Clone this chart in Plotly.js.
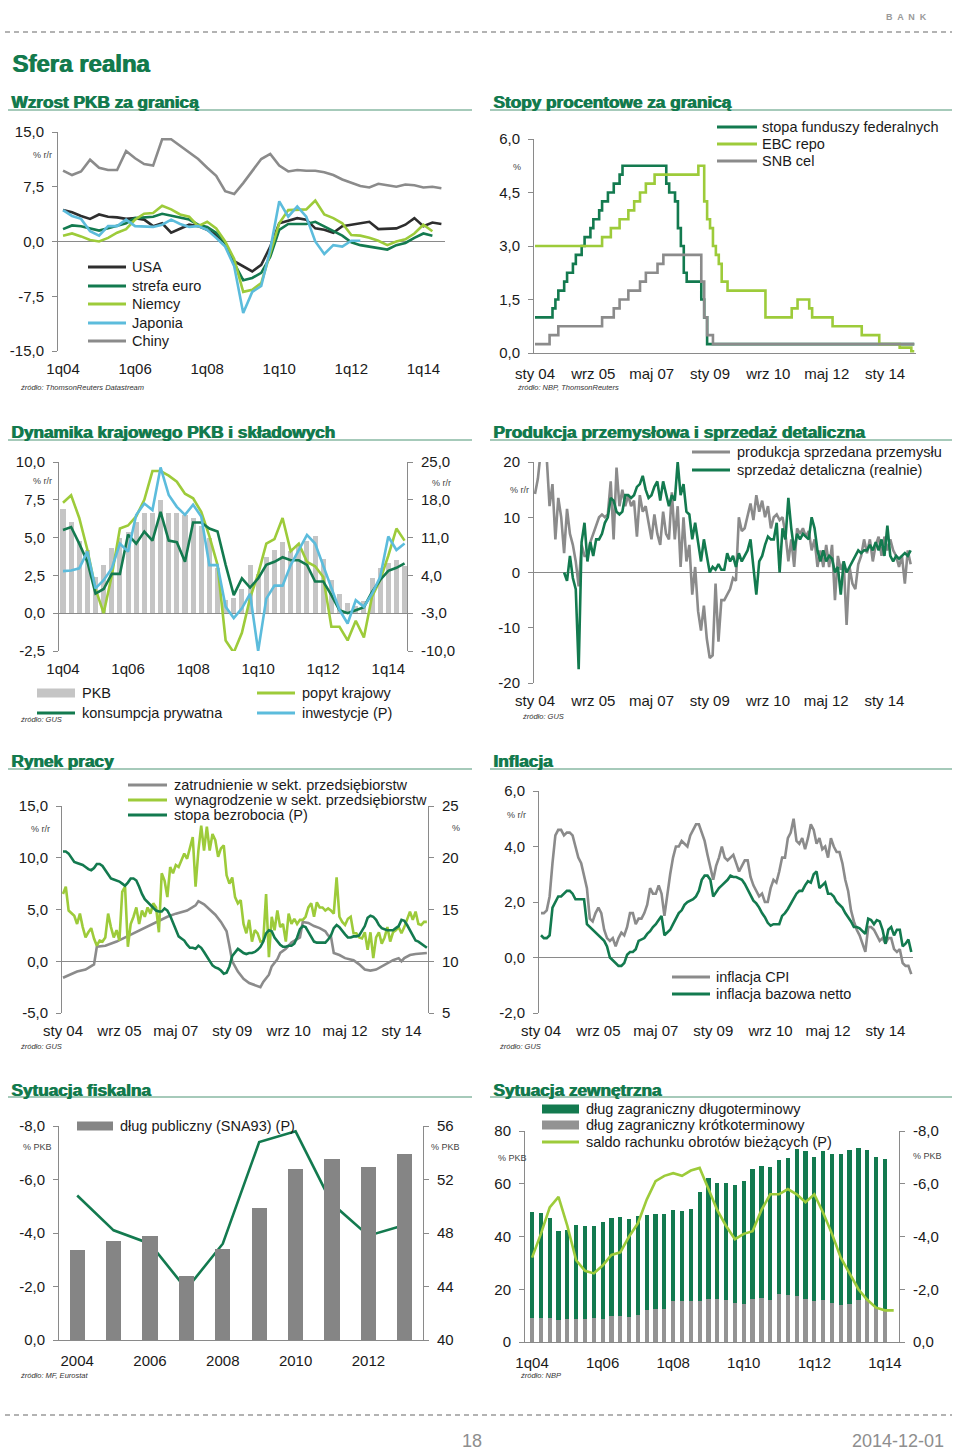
<!DOCTYPE html>
<html><head><meta charset="utf-8">
<script src="https://cdn.plot.ly/plotly-3.0.1.min.js"></script>
<style>html,body{margin:0;padding:0;background:#fff;}#chart{width:960px;height:1450px;}</style>
</head><body><div id="chart"></div>
<script>
// ---------------- DATA ----------------
// Panel 1: GDP abroad (quarterly 1q04..3q14)
const quarterTickLabels = ['1q04','1q06','1q08','1q10','1q12','1q14'];
const gdpUSA = [4.3,4.0,3.5,3.1,3.7,3.4,3.3,3.1,3.2,3.0,2.1,2.5,1.2,1.8,2.3,2.1,1.6,0.9,-0.2,-2.7,-3.4,-4.1,-3.2,-0.7,2.5,2.9,3.2,3.0,1.8,1.6,1.2,2.1,2.3,2.5,2.7,1.7,1.7,1.8,2.3,3.2,2.1,2.6,2.4];
const gdpEuro = [1.7,2.2,2.1,1.8,1.5,1.8,2.1,2.5,3.2,3.3,3.4,3.8,3.5,3.2,3.0,2.3,2.0,1.2,-0.2,-3.0,-5.3,-5.0,-4.3,-2.1,1.6,2.4,2.4,2.4,2.7,2.1,1.5,0.8,-0.1,-0.5,-0.7,-0.9,-1.1,-0.5,-0.2,0.5,1.1,0.8,null];
const gdpGermany = [0.8,1.1,0.7,0.2,0.0,0.5,1.2,1.7,3.0,3.8,3.9,4.9,4.4,3.7,3.4,2.1,2.7,1.8,0.0,-2.4,-6.9,-6.6,-5.7,-1.6,2.5,4.3,4.4,4.4,5.6,3.7,3.2,2.5,0.9,0.8,0.5,0.1,-0.5,0.0,0.3,1.1,2.3,1.4,null];
const gdpJapan = [4.3,3.5,3.1,1.4,0.8,2.1,2.1,3.0,2.1,2.1,2.0,2.3,3.0,2.4,2.0,2.1,1.6,0.5,-0.7,-3.4,-9.8,-6.9,-6.1,-1.1,5.5,3.4,4.8,3.4,0.0,-1.7,-0.5,-0.7,0.1,0.1];
const gdpChina = [9.7,9.1,9.6,11.2,10.1,9.8,9.8,12.4,11.4,10.6,10.4,14.0,14.0,13.1,12.2,11.3,10.1,9.0,6.9,6.5,8.0,9.6,11.3,12.0,10.4,9.6,9.8,9.7,9.7,9.5,9.1,8.5,8.0,7.6,7.4,7.9,7.7,7.5,7.8,7.7,7.4,7.5,7.3];

// Panel 2: policy rates (step change points, months since Jan 2004)
const monthTickLabels = ['sty 04','wrz 05','maj 07','sty 09','wrz 10','maj 12','sty 14'];
const fedMonths = [0,6,7,8,10,11,13,14,16,17,19,20,22,23,25,27,29,30,45,46,48,49,50,51,52,57,58,59,130];
const fedRate   = [1.0,1.25,1.5,1.75,2.0,2.25,2.5,2.75,3.0,3.25,3.5,3.75,4.0,4.25,4.5,4.75,5.0,5.25,4.75,4.5,4.25,3.5,3.0,2.25,2.0,1.5,1.0,0.25,0.25];
const ecbMonths = [0,23,26,29,32,34,36,38,41,56,58,59,60,61,62,63,64,66,79,88,90,94,95,102,112,118,125,129,130];
const ecbRate   = [3.0,3.25,3.5,3.75,4.0,4.25,4.5,4.75,5.0,5.25,4.25,3.75,3.5,3.0,2.75,2.5,2.0,1.75,1.0,1.25,1.5,1.25,1.0,0.75,0.5,0.25,0.15,0.05,0.05];
const snbMonths = [0,5,8,23,27,29,32,36,38,42,44,57,58,59,61,130];
const snbRate   = [0.25,0.5,0.75,1.0,1.25,1.5,1.75,2.0,2.25,2.5,2.75,2.0,1.0,0.5,0.25,0.25];

// Panel 3: Polish GDP and components (quarterly 1q04..3q14)
const gdpPL = [6.9,6.0,4.8,4.2,2.4,3.2,4.3,5.0,5.4,6.0,6.6,6.6,7.5,6.6,6.6,6.5,6.3,5.8,5.0,3.0,0.9,1.0,1.6,3.2,2.6,3.7,4.2,4.7,4.1,4.5,4.8,5.1,3.6,2.2,1.3,0.7,0.5,0.8,2.3,3.0,3.3,3.5,3.1];
const domesticDemand = [7.3,7.8,6.3,4.2,1.6,0.0,2.5,5.6,5.8,6.4,7.5,9.4,9.4,9.1,8.7,7.9,7.6,6.7,5.1,3.2,-1.8,-2.6,-1.3,1.0,2.6,4.6,4.9,6.3,4.1,4.6,3.4,3.1,2.4,-0.9,-0.9,-1.8,-0.5,-1.6,1.1,2.2,3.8,5.6,4.8];
const privateConsumption = [5.5,5.7,4.6,3.4,1.3,1.6,2.6,2.6,5.2,4.6,5.4,4.8,6.7,4.8,4.7,3.4,6.0,6.0,5.6,5.4,3.2,1.2,2.3,1.7,2.3,3.2,3.4,3.7,3.5,3.5,3.2,2.1,2.1,1.2,0.2,0.0,0.2,0.4,1.4,2.2,2.8,3.0,3.3];
const investment = [4.8,4.9,5.3,8.4,1.6,3.1,5.3,9.9,8.4,15.2,17.3,16.1,24.0,18.9,16.7,15.2,17.1,14.9,5.9,5.9,-1.8,-3.9,-2.1,0.6,-10.0,-0.3,2.1,2.1,5.9,8.7,11.5,9.9,5.9,1.9,-2.4,-4.9,-0.6,-1.8,0.6,3.7,11.2,8.7,9.9];

// Panel 4: industrial production and retail sales (monthly Jan04..Oct14)
const industrialProduction = [14.2,17,22,23,21,12,16,6,13.5,10,
 3.5,11.5,7,5,2,-2.5,5,3,3,5.5,
 7,8.5,10,10.5,10,10.5,16.5,6,19,12,
 15,12,14,12,13,6.5,14,11,12,9,
 6,10.5,7,5,11,7,6,14.5,6,12,
 1,10,2,5,-4,1,-7,-10.5,-6,-12,
 -15.5,-15,-2,-12.5,-5,-5,-4,-3,-1,-1.5,
 10,7.5,8,10,12.5,9.5,14,11,13,10,
 12,8,10,10.5,9.5,10,7,2,6,1,
 8,7,8,6.5,7.5,4,6,1,4,1,
 5,1,5,-5,3,0.5,2,-9.5,1,-2,
 -3,1.5,3,6,3.5,6,2,5,6.5,3,
 6.5,4,6,4,3,1,3,-2,4,1.5];
const retailSales = [null,null,null,null,null,null,null,null,null,null,
 0,-1.5,3,-1,-3,-17.5,5.5,9,2,5.5,
 3,6,6,7,9,10,13.5,13,11,10.5,
 11,14,14,13.5,14,15.5,16,17.5,15,13.5,
 14,15.5,16.5,13,16.5,14,12,14,13,20,
 14,16,11,10.5,6,9,5,2,6,3,
 0,1,0.5,1.5,0.5,0.5,3.5,2,3,1,
 3.5,2,3,4,6,1,-4,2,3,5,
 6.5,6,6,9,0,8,6,13.5,8,4,
 7,6,7,6.5,6,10,8,4,2,4,
 2,3,2.5,0,1,-4,2,0,1,2,
 3,4,3.5,4,4,5,4,5.5,4,6,
 3,8.5,3,2,3,2.5,3,3.5,3,4];

// Panel 5: labour market
const employmentMonths = [0,5,8,11,12,15,19,22,26,30,33,37,40,44,47,48,50,52,54,56,58,59,60,62,64,66,69,70,71,73,74,76,77,79,81,83,84,85,87,89,91,93,94,95,96,98,100,103,105,107,109,111,113,115,117,119,120,121,123,125,129];
const employment = [-1.6,-1.0,-0.8,-0.3,1.4,1.5,1.9,2.3,2.8,3.4,3.8,4.3,4.6,4.9,5.4,5.8,5.5,5.0,4.5,3.8,2.9,1.5,0.0,-1.0,-1.7,-2.1,-2.4,-2.5,-2.0,-1.3,-0.5,0.2,0.8,1.2,1.8,2.1,2.3,3.8,3.7,3.4,3.2,2.9,2.5,2.4,0.8,0.6,0.3,0.1,-0.3,-0.8,-0.9,-0.8,-0.5,-0.2,0.1,0.3,0.0,0.3,0.6,0.7,0.8];
const wages = [6.5,7.2,4.9,4.6,4.4,3.6,4.6,3.3,2.3,2.8,
 3.2,2.2,1.5,2.0,1.9,2.3,4.6,3.3,2.3,3.0,
 2.0,6.7,7.2,1.4,3.6,4.3,5.2,3.6,4.9,4.3,
 5.2,4.6,5.6,5.2,2.8,8.5,7.8,6.2,9.1,8.5,
 9.3,9.1,9.7,10.4,9.9,11.0,12.0,7.2,10.7,13.1,
 10.7,13.0,10.7,12.3,11.7,10.1,10.9,11.2,8.3,7.5,
 8.1,6.2,5.6,5.9,3.6,2.7,4.0,1.9,3.0,2.7,
 1.9,2.0,6.5,0.4,4.3,3.0,4.9,3.3,3.6,1.9,
 4.6,3.6,4.1,3.6,4.0,4.0,4.3,5.2,5.6,4.3,
 5.7,5.2,5.2,4.9,5.1,4.9,4.6,8.1,4.3,3.8,
 3.5,4.1,4.3,2.7,2.7,2.3,2.2,2.8,1.1,2.8,
 0.3,2.3,2.8,1.7,2.3,3.3,1.9,2.8,3.0,3.3,
 2.7,3.3,4.0,4.8,4.0,4.8,3.6,3.5,3.8,3.8];
const unemployment = [20.6,20.6,20.4,20.0,19.6,19.5,19.4,19.3,19.1,18.9,18.8,19.0,
 19.4,19.4,19.2,18.8,18.4,18.0,17.9,17.8,17.7,17.5,17.3,17.6,
 18.0,18.0,17.8,17.2,16.5,16.0,15.7,15.5,15.2,14.9,14.8,14.8,
 15.1,14.9,14.4,13.7,13.0,12.4,12.2,12.0,11.6,11.3,11.3,11.2,
 11.5,11.3,10.9,10.5,10.0,9.6,9.4,9.3,9.1,8.8,8.9,9.5,
 10.5,10.9,11.2,11.0,10.8,10.7,10.8,10.8,10.9,11.1,11.4,11.9,
 12.7,13.0,12.9,12.3,11.9,11.6,11.4,11.4,11.5,11.5,11.7,12.3,
 13.1,13.4,13.3,12.8,12.4,11.9,11.8,11.8,11.8,11.8,12.1,12.5,
 13.2,13.5,13.3,12.9,12.6,12.3,12.3,12.4,12.4,12.5,12.9,13.4,
 14.2,14.4,14.3,14.0,13.5,13.2,13.1,13.0,13.0,13.0,13.2,13.4,
 14.0,13.9,13.5,13.0,12.5,12.0,11.9,11.7,11.5,11.3];

// Panel 6: inflation (monthly Jan04..Oct14)
const cpi = [1.6,1.6,1.7,2.2,3.4,4.4,4.6,4.6,4.4,4.5,4.5,4.4,
 4.0,3.6,3.4,3.0,2.5,1.4,1.3,1.6,1.8,1.6,1.0,0.7,
 0.6,0.7,0.4,0.7,0.9,0.8,1.1,1.6,1.6,1.2,1.4,1.4,
 1.6,1.9,2.5,2.3,2.3,2.6,2.3,1.5,2.3,3.0,3.6,4.0,
 4.0,4.2,4.1,4.0,4.4,4.6,4.8,4.8,4.5,4.2,3.7,3.3,
 2.8,3.3,3.6,4.0,3.6,3.5,3.6,3.7,3.4,3.1,3.3,3.5,
 3.5,2.9,2.6,2.4,2.2,2.3,2.0,2.0,2.5,2.8,2.7,3.1,
 3.6,3.6,4.3,4.5,5.0,4.2,4.1,4.3,3.9,4.3,4.8,4.6,
 4.1,4.3,3.9,4.0,3.6,4.3,4.0,3.8,3.8,3.4,2.8,2.4,
 1.7,1.3,1.0,0.8,0.5,0.2,1.1,1.1,1.0,0.8,0.6,0.7,
 0.5,0.7,0.7,0.3,0.2,0.3,-0.2,-0.3,-0.3,-0.6];
const coreInflation = [0.8,0.7,0.7,0.8,1.8,2.0,2.2,2.2,2.3,2.4,
 2.4,2.3,2.1,2.1,2.1,2.1,1.2,1.1,1.0,0.9,
 0.8,0.7,0.6,0.4,0.0,-0.1,-0.2,-0.3,-0.3,-0.2,
 0.1,0.2,0.2,0.3,0.6,0.65,0.7,0.85,0.95,1.1,
 1.2,1.35,1.5,0.8,0.9,1.0,1.2,1.4,1.6,1.7,
 1.9,2.0,2.05,2.1,2.2,2.4,2.8,2.95,2.95,2.8,
 2.2,2.35,2.5,2.6,2.7,2.8,2.95,2.9,2.9,2.85,
 2.8,2.65,2.45,2.25,2.05,1.95,1.8,1.6,1.45,1.25,
 1.15,1.2,1.2,1.2,1.5,1.6,1.75,1.95,2.1,2.3,
 2.4,2.4,2.6,2.75,2.7,3.0,3.1,2.5,2.6,2.7,
 2.3,2.3,2.2,2.0,1.9,1.8,1.6,1.45,1.3,1.1,
 1.1,1.05,0.95,0.85,1.4,1.35,1.2,1.35,1.3,1.0,
 0.5,1.0,1.1,0.8,1.0,1.0,0.4,0.5,0.65,0.2];

// Panel 7: fiscal
const fiscalYears = [2004,2005,2006,2007,2008,2009,2010,2011,2012,2013];
const yearTickLabels = ['2004','2006','2008','2010','2012'];
const publicDebt = [46.7,47.4,47.8,44.8,46.8,49.9,52.8,53.5,52.9,53.9];
const deficit = [-5.4,-4.1,-3.6,-1.9,-3.6,-7.4,-7.8,-5.1,-3.9,-4.3];

// Panel 8: external (quarterly 1q04..)
const longTermDebt = [40.2,39.8,37.9,33.9,34.0,35.9,35.3,34.9,36.7,37.0,37.5,37.1,37.7,36.2,36.3,35.8,34.4,34.2,35.2,41.5,45.9,44.2,44.6,44.7,46.6,49.3,50.1,50.4,50.6,52.0,56.0,56.2,54.8,56.5,56.4,57.3,58.2,57.8,57.1,56.9,57.5];
const shortTermDebt = [9.1,9.1,9.1,8.2,8.6,8.6,8.6,9.1,8.8,9.9,9.9,9.5,10.1,12.0,12.4,12.6,15.5,15.5,15.4,15.4,16.4,16.2,15.8,14.8,14.5,16.4,16.7,16.1,18.3,17.7,17.3,16.2,15.5,15.8,14.8,13.9,14.5,15.8,15.8,13.3,12.0];
const currentAccount = [-3.2,-4.1,-5.1,-5.5,-4.4,-3.1,-2.7,-2.6,-2.9,-3.3,-3.4,-4.0,-4.5,-5.4,-6.1,-6.3,-6.4,-6.3,-6.5,-6.6,-5.8,-5.0,-4.4,-3.9,-4.1,-4.2,-5.0,-5.6,-5.6,-5.8,-5.6,-5.3,-5.6,-4.9,-4.1,-3.2,-2.6,-2.0,-1.6,-1.3,-1.2,-1.2];

// ---------------- STYLE / LAYOUT ----------------
const W = 960, H = 1450;
const FONT = 'Liberation Sans, Arial, Helvetica, sans-serif';
const DG = '#137a4f', LIME = '#9dcb3a', BLUE = '#5cbcdc', GRAY = '#8b8b8b', BLACK = '#2e2e2e', LGRAY = '#c5c5c5', TITLE = '#137a4d', AX = '#8a8a8a';
const fx = x => x / W, fy = y => 1 - y / H;
const idx = a => a.map((_, i) => i);

const layout = {
  width: W, height: H, margin: {l:0, r:0, t:0, b:0},
  paper_bgcolor: '#ffffff', plot_bgcolor: 'rgba(0,0,0,0)',
  showlegend: false, barmode: 'stack',
  font: {family: FONT, color: '#1a1a1a'},
  shapes: [], annotations: []
};
const traces = [];
const TF = {family: FONT, size: 15, color: '#1a1a1a'};

function xAxis(n, x0, x1, range, tickvals, ticktext, extra) {
  layout['xaxis' + (n === 1 ? '' : n)] = Object.assign({
    domain: [fx(x0), fx(x1)], range, anchor: n === 1 ? 'y' : 'y' + n,
    tickmode: 'array', tickvals, ticktext, ticks: '', showgrid: false, zeroline: false,
    showline: false, tickfont: TF, ticklabelstandoff: 7, fixedrange: true
  }, extra || {});
}
function tickAxis(n, base, yPx, range, tickvals) {
  layout['xaxis' + n] = {
    overlaying: base, anchor: 'free', position: fy(yPx), range,
    tickmode: 'array', tickvals, ticks: 'outside', ticklen: 5, tickcolor: AX, tickwidth: 1,
    showticklabels: false, showline: false, showgrid: false, zeroline: false, fixedrange: true
  };
}
function yAxis(key, anchor, y0, y1, range, tickvals, ticktext, extra) {
  layout[key] = Object.assign({
    domain: [fy(y1), fy(y0)], range, anchor,
    tickmode: 'array', tickvals, ticktext, showgrid: false,
    showline: true, linecolor: AX, linewidth: 1, ticks: 'outside', ticklen: 5, tickcolor: AX,
    zeroline: false, zerolinecolor: AX, zerolinewidth: 1,
    tickfont: TF, ticklabelstandoff: 5, fixedrange: true
  }, extra || {});
}
function line(x, y, xa, ya, color, shape, width) {
  traces.push({type:'scatter', mode:'lines', x, y, xaxis: xa, yaxis: ya,
    line: {color, width: width || 2.6, shape: shape || 'linear'}, hoverinfo: 'skip'});
}
function txt(x, y, text, size, color, xa, extra) {
  layout.annotations.push(Object.assign({xref:'paper', yref:'paper', x: fx(x), y: fy(y), text,
    showarrow: false, xanchor: xa || 'left', yanchor: 'middle',
    font: {family: FONT, size, color: color || '#1a1a1a'}}, extra || {}));
}
function heavy(x, y, text, size, color) { // faux heavy weight: bold text drawn twice, offset by a fraction of a pixel
  txt(x, y, '<b>' + text + '</b>', size, color);
  txt(x + 0.7, y, '<b>' + text + '</b>', size, color);
}
function hline(x0, x1, y, color, width, dash) {
  layout.shapes.push({type:'line', xref:'paper', yref:'paper', x0: fx(x0), x1: fx(x1), y0: fy(y), y1: fy(y),
    line: {color, width, dash: dash || 'solid'}});
}
function rect(x0, x1, y0, y1, color) {
  layout.shapes.push({type:'rect', xref:'paper', yref:'paper', x0: fx(x0), x1: fx(x1), y0: fy(y1), y1: fy(y0),
    line: {width: 0}, fillcolor: color});
}
function legLine(x0, x1, y, color, label, tx) { hline(x0, x1, y, color, 3); txt(tx, y, label, 14.5); }
function legRect(x0, x1, y, color, label, tx) { rect(x0, x1, y - 4.5, y + 4.5, color); txt(tx, y, label, 14.5); }
function unit(x, y, t) { txt(x, y, t, 9, '#444', 'center'); }
function source(x, y, t) { txt(x, y, '<i>' + t + '</i>', 7.5, '#333'); }

// ---------------- PAGE FRAME ----------------
hline(5, 952, 32, '#9a9a9a', 1.5, '5px,4px');
hline(5, 952, 1415, '#9a9a9a', 1.5, '5px,4px');
txt(906, 17, '<b>B  A  N  K</b>', 9, '#9a9a9a', 'center');
heavy(10, 63, 'Sfera realna', 24, TITLE);
txt(472, 1441, '18', 18, '#8e8e8e', 'center');
txt(946, 1441, '2014-12-01', 18, '#8e8e8e', 'right');
const titles = [[9,102,'Wzrost PKB za granicą'],[491,102,'Stopy procentowe za granicą'],
  [9,432,'Dynamika krajowego PKB i składowych'],[491,432,'Produkcja przemysłowa i sprzedaż detaliczna'],
  [9,761,'Rynek pracy'],[491,761,'Inflacja'],[9,1090,'Sytuacja fiskalna'],[491,1090,'Sytuacja zewnętrzna']];
titles.forEach(t => heavy(t[0], t[1], t[2], 17.2, TITLE));
[110, 440, 769, 1097].forEach(y => { hline(8, 472, y, '#4e9677', 1.2); hline(490, 952, y, '#4e9677', 1.2); });

// ---------------- PANEL 1 ----------------
{
  const r = [-0.56, 42.4];
  xAxis(1, 58, 445, r, [0,8,16,24,32,40], quarterTickLabels);
  tickAxis(11, 'x', 242, r, [6.5,13.5,20.5,27.5,34.5,41.5]);
  yAxis('yaxis', 'x', 132, 351, [-15, 15], [-15,-7.5,0,7.5,15], ['-15,0','-7,5','0,0','7,5','15,0'], {zeroline: true});
  line(idx(gdpUSA), gdpUSA, 'x', 'y', BLACK);
  line(idx(gdpEuro), gdpEuro, 'x', 'y', DG);
  line(idx(gdpGermany), gdpGermany, 'x', 'y', LIME);
  line(idx(gdpJapan), gdpJapan, 'x', 'y', BLUE);
  line(idx(gdpChina), gdpChina, 'x', 'y', GRAY);
  unit(42, 155, '% r/r');
  source(18, 387, 'źródło: ThomsonReuters Datastream');
  [['USA',BLACK,267],['strefa euro',DG,286],['Niemcy',LIME,304],['Japonia',BLUE,323],['Chiny',GRAY,341]]
    .forEach(l => legLine(88, 126, l[2], l[1], l[0], 130));
}
// ---------------- PANEL 2 ----------------
{
  const r = [-0.34, 130.6];
  xAxis(2, 534, 916, r, [0,20,40,60,80,100,120], monthTickLabels, {showline: true, linecolor: AX});
  tickAxis(12, 'x2', 353, r, [0,20,40,60,80,100,120]);
  yAxis('yaxis2', 'x2', 139, 353, [0, 6], [0,1.5,3,4.5,6], ['0,0','1,5','3,0','4,5','6,0']);
  line(fedMonths, fedRate, 'x2', 'y2', DG, 'hv');
  line(ecbMonths, ecbRate, 'x2', 'y2', LIME, 'hv');
  line(snbMonths, snbRate, 'x2', 'y2', GRAY, 'hv');
  unit(517, 167, '%');
  source(515, 387, 'źródło: NBP, ThomsonReuters');
  legLine(717, 757, 127, DG, 'stopa funduszy federalnych', 760);
  legLine(717, 757, 144, LIME, 'EBC repo', 760);
  legLine(717, 757, 161, GRAY, 'SNB cel', 760);
}
// ---------------- PANEL 3 ----------------
{
  const r = [-0.49, 42.3];
  xAxis(3, 59, 407, r, [0,8,16,24,32,40], quarterTickLabels);
  tickAxis(13, 'x3', 613, r, [7.5,15.5,23.5,31.5,39.5]);
  yAxis('yaxis3', 'x3', 462, 651, [-2.5, 10], [-2.5,0,2.5,5,7.5,10], ['-2,5','0,0','2,5','5,0','7,5','10,0'], {zeroline: true});
  yAxis('yaxis13', 'x3', 462, 651, [-10, 25], [-10,-3,4,11,18,25], ['-10,0','-3,0','4,0','11,0','18,0','25,0'], {overlaying: 'y3', side: 'right'});
  traces.push({type:'bar', x: idx(gdpPL), y: gdpPL, xaxis:'x3', yaxis:'y3', width: 0.62, marker:{color: LGRAY, line:{width:0}}, hoverinfo:'skip'});
  line(idx(domesticDemand), domesticDemand, 'x3', 'y3', LIME);
  line(idx(privateConsumption), privateConsumption, 'x3', 'y3', DG);
  line(idx(investment), investment, 'x3', 'y13', BLUE);
  unit(42, 481, '% r/r'); unit(441, 483, '% r/r');
  source(18, 719, 'źródło: GUS');
  legRect(37, 75, 693, LGRAY, 'PKB', 80);
  legLine(37, 75, 713, DG, 'konsumpcja prywatna', 80);
  legLine(257, 295, 693, LIME, 'popyt krajowy', 300);
  legLine(257, 295, 713, BLUE, 'inwestycje (P)', 300);
}
// ---------------- PANEL 4 ----------------
{
  const r = [-0.34, 129.8];
  xAxis(4, 534, 913, r, [0,20,40,60,80,100,120], monthTickLabels);
  tickAxis(14, 'x4', 573, r, [20,40,60,80,100,120]);
  yAxis('yaxis4', 'x4', 462, 683, [-20, 20], [-20,-10,0,10,20], ['-20','-10','0','10','20'], {zeroline: true});
  line(idx(industrialProduction), industrialProduction, 'x4', 'y4', GRAY);
  line(idx(retailSales), retailSales, 'x4', 'y4', DG);
  unit(519, 490, '% r/r');
  source(520, 716, 'źródło: GUS');
  legLine(692, 730, 452, GRAY, 'produkcja sprzedana przemysłu', 735);
  legLine(692, 730, 470, DG, 'sprzedaż detaliczna (realnie)', 735);
}
// ---------------- PANEL 5 ----------------
{
  const r = [-0.35, 129.4];
  xAxis(5, 62, 428, r, [0,20,40,60,80,100,120], monthTickLabels);
  tickAxis(15, 'x5', 961, r, [20,40,60,80,100,120]);
  yAxis('yaxis5', 'x5', 806, 1013, [-5, 15], [-5,0,5,10,15], ['-5,0','0,0','5,0','10,0','15,0'], {zeroline: true});
  yAxis('yaxis15', 'x5', 806, 1013, [5, 25], [5,10,15,20,25], ['5','10','15','20','25'], {overlaying: 'y5', side: 'right'});
  line(employmentMonths, employment, 'x5', 'y5', GRAY);
  line(idx(wages), wages, 'x5', 'y5', LIME);
  line(idx(unemployment), unemployment, 'x5', 'y15', DG);
  unit(40, 829, '% r/r'); unit(456, 828, '%');
  source(18, 1046, 'źródło: GUS');
  legLine(128, 167, 785, GRAY, 'zatrudnienie w sekt. przedsiębiorstw', 172);
  legLine(128, 167, 800, LIME, 'wynagrodzenie w sekt. przedsiębiorstw', 172);
  legLine(128, 167, 815, DG, 'stopa bezrobocia (P)', 172);
}
// ---------------- PANEL 6 ----------------
{
  const r = [-0.7, 129.6];
  xAxis(6, 539, 913, r, [0,20,40,60,80,100,120], monthTickLabels);
  tickAxis(16, 'x6', 958, r, [20,40,60,80,100,120]);
  yAxis('yaxis6', 'x6', 791, 1013, [-2, 6], [-2,0,2,4,6], ['-2,0','0,0','2,0','4,0','6,0'], {zeroline: true});
  line(idx(cpi), cpi, 'x6', 'y6', GRAY);
  line(idx(coreInflation), coreInflation, 'x6', 'y6', DG);
  unit(516, 815, '% r/r');
  source(497, 1046, 'źródło: GUS');
  legLine(672, 710, 977, GRAY, 'inflacja CPI', 714);
  legLine(672, 710, 994, DG, 'inflacja bazowa netto', 714);
}
// ---------------- PANEL 7 ----------------
{
  xAxis(7, 59, 423, [2003.5, 2013.5], [2004,2006,2008,2010,2012], yearTickLabels, {showline: true, linecolor: AX});
  yAxis('yaxis7', 'x7', 1126, 1340, [0, -8], [0,-2,-4,-6,-8], ['0,0','-2,0','-4,0','-6,0','-8,0']);
  yAxis('yaxis17', 'x7', 1126, 1340, [40, 56], [40,44,48,52,56], ['40','44','48','52','56'], {overlaying: 'y7', side: 'right'});
  traces.push({type:'bar', x: fiscalYears, y: publicDebt, xaxis:'x7', yaxis:'y17', width: 0.42, marker:{color:'#858585', line:{width:0}}, hoverinfo:'skip'});
  line(fiscalYears, deficit, 'x7', 'y7', DG);
  unit(37, 1147, '% PKB'); unit(445, 1147, '% PKB');
  source(18, 1375, 'źródło: MF, Eurostat');
  legRect(77, 113, 1126, '#858585', 'dług publiczny (SNA93) (P)', 118);
}
// ---------------- PANEL 8 ----------------
{
  const r = [-0.8, 41.6];
  xAxis(8, 525, 899, r, [0,8,16,24,32,40], quarterTickLabels, {showline: true, linecolor: AX});
  tickAxis(18, 'x8', 1342, r, [-0.5,7.5,15.5,23.5,31.5,39.5]);
  yAxis('yaxis8', 'x8', 1131, 1342, [0, 80], [0,20,40,60,80], ['0','20','40','60','80']);
  yAxis('yaxis18', 'x8', 1131, 1342, [0, -8], [0,-2,-4,-6,-8], ['0,0','-2,0','-4,0','-6,0','-8,0'], {overlaying: 'y8', side: 'right'});
  traces.push({type:'bar', x: idx(shortTermDebt), y: shortTermDebt, xaxis:'x8', yaxis:'y8', width: 0.48, marker:{color:'#939393', line:{width:0}}, hoverinfo:'skip'});
  traces.push({type:'bar', x: idx(longTermDebt), y: longTermDebt, xaxis:'x8', yaxis:'y8', width: 0.48, marker:{color: DG, line:{width:0}}, hoverinfo:'skip'});
  line(idx(currentAccount), currentAccount, 'x8', 'y18', LIME);
  unit(512, 1158, '% PKB'); unit(927, 1156, '% PKB');
  source(518, 1375, 'źródło: NBP');
  legRect(542, 579, 1109, DG, 'dług zagraniczny długoterminowy', 584);
  legRect(542, 579, 1125, '#939393', 'dług zagraniczny krótkoterminowy', 584);
  legLine(542, 579, 1142, LIME, 'saldo rachunku obrotów bieżących (P)', 584);
}

Plotly.newPlot('chart', traces, layout, {staticPlot: true, displayModeBar: false});
</script>
</body></html>
